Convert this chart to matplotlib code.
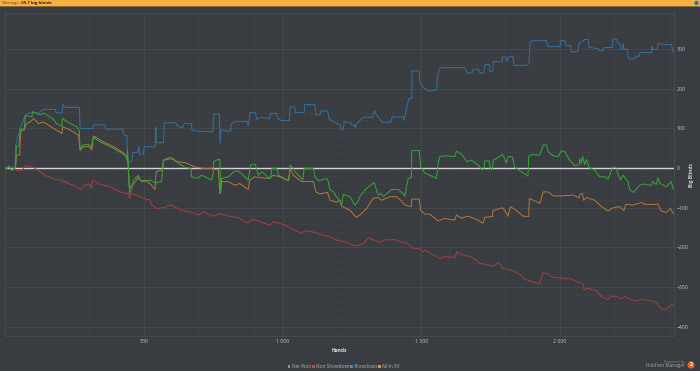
import matplotlib
matplotlib.use('Agg')
import matplotlib.pyplot as plt
from matplotlib.patches import Rectangle, Circle
from matplotlib.ticker import MultipleLocator, FuncFormatter

# hands / big blinds
showdown_x = [0, 20, 35, 37, 52, 72, 96, 114, 136, 180, 184, 205, 208, 216, 267, 270, 316, 318, 360, 363, 424, 429, 438, 441, 444, 456, 460, 477, 482, 484, 498, 501, 541, 543, 544, 571, 573, 615, 621, 640, 645, 671, 674, 748, 752, 772, 775, 778, 811, 815, 829, 873, 876, 883, 902, 907, 921, 953, 958, 979, 984, 997, 1025, 1027, 1044, 1046, 1078, 1080, 1116, 1120, 1135, 1138, 1163, 1167, 1183, 1198, 1207, 1211, 1219, 1222, 1246, 1249, 1261, 1263, 1265, 1291, 1325, 1331, 1340, 1352, 1361, 1392, 1395, 1436, 1438, 1455, 1466, 1467, 1493, 1496, 1514, 1528, 1556, 1559, 1568, 1658, 1664, 1683, 1686, 1706, 1712, 1726, 1730, 1746, 1748, 1758, 1760, 1791, 1794, 1806, 1808, 1815, 1830, 1835, 1880, 1889, 1892, 1898, 1952, 1958, 2000, 2004, 2018, 2022, 2039, 2042, 2065, 2069, 2078, 2090, 2102, 2106, 2138, 2142, 2156, 2159, 2189, 2191, 2205, 2207, 2217, 2219, 2226, 2228, 2232, 2244, 2247, 2271, 2274, 2286, 2289, 2331, 2333, 2334, 2351, 2353, 2403, 2409]
showdown_y = [0, 2, -1, 56, 96, 133, 142, 136, 148, 148, 139, 139, 160, 153, 153, 100, 100, 109, 109, 98, 98, 82, 82, 28, 12, 18, 39, 39, 54, 35, 35, 54, 54, 102, 64, 64, 114, 114, 106, 102, 112, 112, 94, 91, 136, 136, 62, 96, 92, 111, 117, 117, 106, 140, 140, 123, 128, 125, 138, 138, 124, 120, 120, 154, 154, 140, 140, 160, 160, 134, 134, 144, 144, 125, 117, 111, 111, 97, 97, 117, 114, 108, 108, 100, 110, 128, 128, 145, 133, 123, 114, 117, 129, 129, 121, 175, 176, 245, 245, 213, 200, 194, 197, 234, 253, 253, 240, 240, 249, 249, 240, 240, 261, 261, 243, 243, 268, 268, 280, 280, 268, 280, 282, 259, 259, 264, 314, 321, 321, 306, 306, 321, 321, 309, 309, 292, 294, 314, 318, 324, 324, 304, 301, 296, 296, 304, 304, 325, 325, 316, 314, 299, 299, 314, 299, 299, 275, 275, 282, 282, 291, 291, 306, 299, 299, 313, 311, 293]

net_won_x = [0, 6, 13, 19, 25, 37, 40, 49, 54, 68, 73, 96, 98, 114, 126, 138, 174, 184, 204, 207, 217, 258, 267, 270, 280, 300, 309, 318, 330, 354, 390, 426, 436, 439, 441, 448, 456, 462, 480, 486, 498, 522, 540, 564, 570, 606, 624, 648, 669, 672, 693, 708, 744, 750, 751, 768, 774, 777, 780, 804, 828, 844, 876, 885, 901, 913, 925, 949, 957, 961, 979, 985, 1015, 1023, 1027, 1039, 1045, 1073, 1078, 1111, 1117, 1129, 1159, 1165, 1171, 1183, 1193, 1207, 1213, 1219, 1243, 1261, 1273, 1279, 1297, 1330, 1345, 1354, 1363, 1393, 1417, 1435, 1441, 1453, 1465, 1466, 1493, 1498, 1513, 1531, 1555, 1561, 1567, 1585, 1621, 1627, 1645, 1666, 1681, 1705, 1717, 1726, 1729, 1745, 1750, 1757, 1759, 1783, 1793, 1801, 1807, 1813, 1829, 1837, 1861, 1885, 1888, 1898, 1928, 1940, 1952, 1958, 1976, 1994, 2006, 2018, 2036, 2054, 2070, 2072, 2078, 2082, 2090, 2096, 2106, 2126, 2144, 2162, 2174, 2190, 2202, 2210, 2219, 2228, 2246, 2252, 2267, 2288, 2306, 2330, 2334, 2348, 2354, 2360, 2384, 2402, 2409]
net_won_y = [0, -1, 5, -3, -5, 3, 54, 56, 97, 100, 133, 129, 142, 138, 134, 139, 123, 112, 106, 125, 119, 104, 94, 45, 58, 60, 50, 79, 71, 62, 50, 35, 28, 20, 45, -64, -51, -30, -18, -30, -34, -30, -37, -34, 20, 24, 12, 2, -1, -22, -26, -18, -30, -13, 16, 22, 22, -64, -26, -22, -7, -9, -30, 8, 10, -18, -9, -24, -26, -1, -1, -18, -29, -30, 8, -1, -9, -29, -1, -1, -22, -32, -26, -34, -55, -59, -71, -82, -93, -66, -72, -93, -83, -72, -55, -36, -68, -64, -72, -54, -54, -64, -71, -26, -24, 44, 44, 3, -12, -18, -26, 12, 29, 31, 29, 43, 35, 16, 20, 8, -3, -3, 18, 18, -3, -3, 20, 29, 35, 24, 12, 29, 28, 2, -9, -20, 30, 34, 33, 58, 58, 41, 31, 29, 44, 41, 20, 6, 9, 24, 12, 29, 9, 22, 1, -5, -22, -22, -28, 2, 2, -16, -30, -18, -34, -55, -61, -43, -40, -44, -34, -41, -24, -38, -47, -34, -53]

non_sd_x = [0, 24, 42, 60, 72, 102, 120, 144, 180, 204, 216, 219, 222, 252, 270, 288, 304, 310, 315, 342, 378, 414, 444, 448, 453, 474, 510, 522, 528, 546, 576, 594, 618, 630, 666, 697, 715, 733, 757, 769, 799, 841, 871, 889, 893, 919, 955, 967, 1003, 1033, 1069, 1078, 1111, 1135, 1171, 1189, 1225, 1261, 1273, 1291, 1309, 1339, 1351, 1369, 1406, 1442, 1448, 1466, 1496, 1505, 1514, 1532, 1568, 1586, 1622, 1628, 1664, 1676, 1698, 1712, 1760, 1778, 1796, 1826, 1862, 1868, 1898, 1928, 1938, 1958, 1970, 1988, 2036, 2060, 2084, 2087, 2102, 2132, 2150, 2174, 2186, 2204, 2219, 2235, 2271, 2295, 2349, 2357, 2373, 2385, 2403, 2409]
non_sd_y = [0, 3, -7, -6, 6, 2, -7, -18, -29, -30, -37, -32, -37, -45, -54, -43, -40, -51, -30, -41, -47, -60, -65, -76, -65, -68, -79, -79, -93, -102, -99, -93, -100, -106, -110, -118, -110, -117, -121, -114, -120, -125, -138, -131, -129, -135, -144, -135, -142, -152, -165, -158, -161, -167, -173, -180, -186, -196, -194, -190, -176, -184, -187, -181, -180, -190, -187, -201, -204, -211, -207, -213, -228, -222, -226, -211, -222, -222, -232, -240, -247, -238, -253, -257, -270, -278, -286, -291, -264, -266, -274, -276, -278, -286, -291, -306, -303, -309, -324, -331, -323, -323, -330, -324, -335, -330, -338, -349, -356, -355, -344, -347]

all_in_x = [0, 6, 13, 19, 25, 37, 40, 52, 54, 56, 68, 76, 92, 102, 120, 138, 174, 204, 207, 234, 264, 270, 282, 306, 312, 318, 354, 390, 429, 441, 448, 462, 480, 492, 504, 522, 540, 544, 568, 570, 594, 618, 648, 684, 714, 744, 750, 768, 774, 780, 804, 828, 846, 876, 882, 900, 919, 949, 967, 991, 1021, 1027, 1039, 1069, 1111, 1120, 1135, 1162, 1171, 1195, 1207, 1213, 1243, 1265, 1279, 1303, 1327, 1345, 1357, 1387, 1411, 1423, 1441, 1465, 1466, 1493, 1498, 1513, 1531, 1561, 1585, 1621, 1627, 1645, 1669, 1705, 1723, 1729, 1757, 1759, 1783, 1793, 1801, 1813, 1822, 1849, 1867, 1888, 1890, 1898, 1928, 1940, 1958, 1976, 2012, 2048, 2070, 2072, 2082, 2086, 2096, 2126, 2150, 2174, 2192, 2216, 2231, 2238, 2264, 2294, 2312, 2354, 2366, 2384, 2399, 2409]
all_in_y = [0, -1, 5, -3, -5, 3, 33, 33, 70, 94, 96, 112, 117, 125, 112, 116, 100, 87, 104, 96, 83, 45, 54, 54, 45, 81, 66, 54, 37, 24, -51, -40, -24, -34, -30, -39, -54, -9, -5, 20, 27, 16, 14, 3, -1, -1, -3, -3, -64, -34, -34, -43, -39, -54, -30, -22, -24, -26, -18, -22, -32, -1, -18, -34, -34, -60, -65, -61, -81, -86, -81, -96, -106, -124, -118, -102, -76, -74, -81, -72, -72, -79, -93, -97, -78, -78, -106, -116, -116, -133, -127, -131, -118, -126, -121, -131, -139, -124, -122, -107, -102, -100, -106, -121, -97, -110, -121, -122, -76, -79, -89, -60, -60, -70, -70, -68, -75, -67, -64, -81, -74, -81, -97, -108, -100, -97, -107, -91, -93, -87, -92, -91, -108, -112, -102, -114]

legend_labels = ['Net Won', 'Non Showdown', 'Showdown', 'All-In EV']
legend_colors = ['#35d03a', '#d8403f', '#2f8fd8', '#e8912e']

bg = '#393c40'
txt = '#c4c6c8'

plt.rcParams['font.family'] = ['Open Sans', 'DejaVu Sans']

fig = plt.figure(figsize=(7, 3.71), dpi=100, facecolor=bg)
ax = fig.add_axes([5.3 / 700, 1 - 336 / 371, 668.2 / 700, 323.5 / 371], facecolor=bg)

ax.set_xlim(0, 2410)
ax.set_ylim(-423, 392)
ax.xaxis.set_major_locator(MultipleLocator(500))
ax.xaxis.set_minor_locator(MultipleLocator(100))
ax.yaxis.set_major_locator(MultipleLocator(100))
ax.yaxis.set_minor_locator(MultipleLocator(20))
ax.xaxis.set_major_formatter(FuncFormatter(lambda v, p: '' if v == 0 else f'{int(v):,}'.replace(',', ' ')))
ax.yaxis.tick_right()
ax.grid(True, which='major', color='#47494d', lw=0.7)
ax.grid(True, which='minor', color='#3f4246', lw=0.5)
ax.set_axisbelow(True)
ax.tick_params(which='both', length=0)
ax.tick_params(axis='both', labelsize=3.7, labelcolor=txt, pad=2.5)
for s in ax.spines.values():
    s.set_color('#47494d')
    s.set_linewidth(0.8)

ax.axhline(0, color='#d4d4d4', lw=1.0, zorder=2)
ax.plot(non_sd_x, non_sd_y, color='#a6403f', lw=0.7, zorder=3)
ax.plot(showdown_x, showdown_y, color='#34729f', lw=0.7, zorder=3)
ax.plot(all_in_x, all_in_y, color='#b67a3a', lw=0.7, zorder=4)
ax.plot(net_won_x, net_won_y, color='#38a838', lw=0.7, zorder=5)

fig.text(339 / 700, 1 - 351 / 371, 'Hands', fontsize=3.5, color='#e0e0e0', fontweight='bold', ha='center', va='center')
fig.text(691 / 700, 1 - 175 / 371, 'Big Blinds', fontsize=3.5, color='#d0d0d0', fontweight='bold', rotation=90, ha='center', va='center')

# orange title bar
fig.add_artist(Rectangle((0, 1 - 6 / 371), 1, 6 / 371, transform=fig.transFigure, color='#f9b145', lw=0))
fig.add_artist(Rectangle((0, 1 - 7 / 371), 1, 1 / 371, transform=fig.transFigure, color='#8a6a35', lw=0))
fig.text(2 / 700, 1 - 3.2 / 371, 'Winnings:', fontsize=2.9, color='#5a4a2a', va='center')
fig.text(20.5 / 700, 1 - 3.2 / 371, '-55.7 big blinds', fontsize=3.1, color='#2a2010', va='center', fontweight='bold')
fig.add_artist(Circle((696.5, 371 - 3), 2.2, transform=None, color='#2f6fb0', lw=0))

# legend built by hand so the squares stay tiny
leg_x = [287.5, 312, 350, 378]
for lab, c, lx in zip(legend_labels, legend_colors, leg_x):
    fig.add_artist(Rectangle((lx / 700, 1 - 367.5 / 371), 2.6 / 700, 2.6 / 371, transform=fig.transFigure, color=c, lw=0))
    fig.text((lx + 4) / 700, 1 - 366 / 371, lab, fontsize=3.4, color='#aeb0b2', va='center')

fig.text(685 / 700, 1 - 361.8 / 371, 'Powered by', fontsize=2.7, color='#85888b', ha='right', va='center')
fig.text(685 / 700, 1 - 366 / 371, "Hold'em Manager", fontsize=3.3, color='#a8aaac', ha='right', va='center')
fig.add_artist(Circle((691, 371 - 365), 3.6, transform=None, color='#d9662a', lw=0))
fig.text(691 / 700, 1 - 365 / 371, '2', fontsize=3.6, color='white', ha='center', va='center', fontweight='bold')

fig.savefig('out.png', dpi=100, facecolor=bg)
